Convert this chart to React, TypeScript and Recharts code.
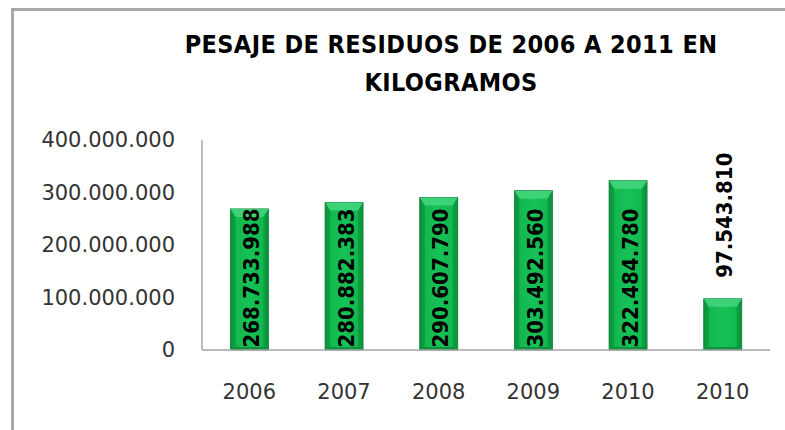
import React from 'react';
import { BarChart, Bar, XAxis, YAxis, LabelList } from 'recharts';

const years = ['2006', '2007', '2008', '2009', '2010', '2010'];
const weights = [268733988, 280882383, 290607790, 303492560, 322484780, 97543810];
const yTicks = [0, 100000000, 200000000, 300000000, 400000000];
const titleLines = ['PESAJE DE RESIDUOS DE 2006 A 2011 EN', 'KILOGRAMOS'];

const data = years.map((y, i) => ({ year: y, value: weights[i] }));

const fmt = (n: number) => String(n).replace(/\B(?=(\d{3})+(?!\d))/g, '.');

const BevelBar = (props: any) => {
  const { x, y, width, height } = props;
  if (!height || height <= 0) return null;
  const b = Math.min(8, height / 2);
  const s = 5;
  return (
    <g>
      <rect x={x} y={y} width={width} height={height} fill="url(#barGrad)" stroke="#0C7F36" strokeWidth={0.8} />
      <polygon
        points={`${x},${y} ${x + width},${y} ${x + width - s},${y + b} ${x + s},${y + b}`}
        fill="#45D67F"
        opacity={0.85}
      />
      <polygon
        points={`${x},${y} ${x + s},${y + b} ${x + s},${y + height - 3} ${x},${y + height}`}
        fill="#0A8C38"
        opacity={0.55}
      />
      <polygon
        points={`${x + width},${y} ${x + width - s},${y + b} ${x + width - s},${y + height - 3} ${x + width},${y + height}`}
        fill="#0A8C38"
        opacity={0.55}
      />
      <polygon
        points={`${x},${y + height} ${x + s},${y + height - 3} ${x + width - s},${y + height - 3} ${x + width},${y + height}`}
        fill="#08752E"
        opacity={0.6}
      />
    </g>
  );
};

const renderLabel = (props: any) => {
  const { x, y, width, height, value } = props;
  const cx = x + width / 2 + 2;
  const base = y + height;
  const style = {
    fontFamily: "'DejaVu Sans Condensed', 'DejaVu Sans', sans-serif",
    fontStretch: 'condensed' as any,
    fontWeight: 'bold' as any,
    fontSize: 22,
    fill: '#000',
  };
  if (value > 200000000) {
    const cy = base - 72;
    return (
      <text
        x={cx}
        y={cy}
        transform={`rotate(-90 ${cx} ${cy})`}
        textAnchor="middle"
        dominantBaseline="central"
        style={style}
      >
        {fmt(value)}
      </text>
    );
  }
  const sy = y - 21;
  return (
    <text
      x={cx}
      y={sy}
      transform={`rotate(-90 ${cx} ${sy})`}
      textAnchor="start"
      dominantBaseline="central"
      style={style}
    >
      {fmt(value)}
    </text>
  );
};

export default function App() {
  return (
    <div style={{ position: 'absolute', left: 0, top: 0, width: 785, height: 430, background: '#fff', overflow: 'hidden' }}>
      <div
        style={{
          position: 'absolute',
          left: 11,
          top: 8,
          width: 800,
          height: 440,
          borderTop: '3px solid #A8A8A8',
          borderLeft: '3px solid #A8A8A8',
        }}
      />
      {titleLines.map((t, i) => (
        <div
          key={i}
          style={{
            position: 'absolute',
            left: 151,
            width: 600,
            top: 26 + i * 38,
            height: 38,
            lineHeight: '38px',
            textAlign: 'center',
            fontFamily: "'DejaVu Sans Condensed', 'DejaVu Sans', sans-serif",
            fontStretch: 'condensed',
            fontWeight: 'bold',
            fontSize: 25,
            letterSpacing: 0.4,
            color: '#000',
            whiteSpace: 'nowrap',
          }}
        >
          {t}
        </div>
      ))}
      <div style={{ position: 'absolute', left: 0, top: 0 }}>
        <BarChart
          width={785}
          height={430}
          data={data}
          margin={{ top: 140, right: 15, bottom: 0, left: 0 }}
          barCategoryGap="30%"
        >
          <defs>
            <linearGradient id="barGrad" x1="0" y1="0" x2="1" y2="0">
              <stop offset="0%" stopColor="#0E9C40" />
              <stop offset="15%" stopColor="#12B84E" />
              <stop offset="50%" stopColor="#16C258" />
              <stop offset="85%" stopColor="#12B84E" />
              <stop offset="100%" stopColor="#0E9C40" />
            </linearGradient>
          </defs>
          <XAxis
            dataKey="year"
            height={80}
            axisLine={{ stroke: '#A6A6A6', strokeWidth: 1.5 }}
            tickLine={false}
            tickSize={0}
            tickMargin={34}
            interval={0}
            tick={{ fill: '#333', fontSize: 21, fontFamily: "'DejaVu Sans', sans-serif" }}
          />
          <YAxis
            width={202}
            domain={[0, 400000000]}
            ticks={yTicks}
            tickFormatter={fmt}
            axisLine={{ stroke: '#A6A6A6', strokeWidth: 1.5 }}
            tickLine={false}
            tickSize={0}
            tickMargin={27}
            interval={0}
            tick={{ fill: '#333', fontSize: 21, fontFamily: "'DejaVu Sans', sans-serif" }}
          />
          <Bar dataKey="value" shape={BevelBar} isAnimationActive={false}>
            <LabelList dataKey="value" content={renderLabel} />
          </Bar>
        </BarChart>
      </div>
    </div>
  );
}
